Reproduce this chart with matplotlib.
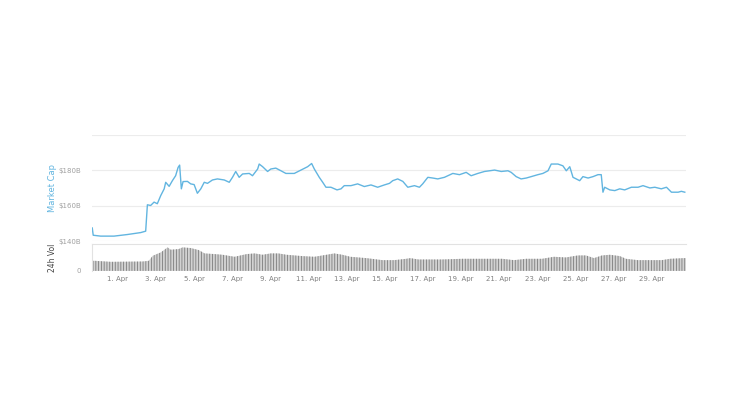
import matplotlib
matplotlib.use("Agg")
import matplotlib.pyplot as plt

# Total market cap, April (x = days after 1 Apr 00:00, y = $B)
cap_days = [-1.33, -1.28, -0.89, -0.19, 0.51, 1.21, 1.47, 1.56, 1.73, 1.91,
            2.08, 2.26, 2.44, 2.52, 2.70, 2.87, 3.04, 3.17, 3.25, 3.34,
            3.43, 3.66, 3.83, 4.01, 4.18, 4.36, 4.54, 4.71, 4.97, 5.23,
            5.59, 5.85, 6.02, 6.19, 6.37, 6.55, 6.90, 7.07, 7.34, 7.42,
            7.60, 7.86, 8.03, 8.29, 8.56, 8.82, 9.26, 9.61, 9.96, 10.17,
            10.31, 10.57, 10.75, 10.92, 11.18, 11.50, 11.71, 11.88, 12.23, 12.58,
            12.93, 13.28, 13.63, 13.98, 14.25, 14.42, 14.68, 14.95, 15.21, 15.56,
            15.82, 15.99, 16.26, 16.52, 16.78, 17.13, 17.57, 17.92, 18.27, 18.53,
            18.88, 19.23, 19.50, 19.76, 20.11, 20.46, 20.63, 20.89, 21.15, 21.42,
            21.68, 22.03, 22.29, 22.56, 22.73, 23.08, 23.34, 23.52, 23.70, 23.87,
            24.04, 24.22, 24.39, 24.66, 24.92, 25.18, 25.35, 25.44, 25.53, 25.80,
            26.06, 26.32, 26.58, 26.93, 27.28, 27.54, 27.90, 28.16, 28.50, 28.77,
            29.03, 29.38, 29.55, 29.73]
cap_values = [147.4, 143.3, 142.8, 142.8, 143.7, 144.8, 145.6, 160.5, 160.1, 162.0,
              161.1, 165.7, 169.5, 173.2, 170.9, 174.1, 176.9, 181.6, 182.9, 169.5,
              173.6, 173.7, 172.3, 171.9, 167.0, 169.5, 173.2, 172.6, 174.5, 175.1,
              174.5, 173.2, 176.0, 179.3, 176.0, 177.9, 178.2, 176.9, 180.7, 183.5,
              182.0, 179.3, 180.7, 181.2, 179.7, 178.2, 178.2, 180.1, 182.0, 183.8,
              180.7, 176.0, 173.2, 170.4, 170.4, 168.9, 169.5, 171.3, 171.3, 172.3,
              170.8, 171.7, 170.4, 171.7, 172.6, 174.1, 175.1, 173.7, 170.4, 171.3,
              170.4, 172.3, 176.0, 175.6, 175.1, 176.0, 178.2, 177.5, 178.8, 176.9,
              178.2, 179.3, 179.7, 180.1, 179.3, 179.7, 178.8, 176.4, 175.1, 175.6,
              176.4, 177.5, 178.2, 179.7, 183.5, 183.5, 182.5, 179.7, 182.0, 176.0,
              175.1, 174.1, 176.4, 175.6, 176.4, 177.5, 177.5, 167.6, 170.4, 168.9,
              168.5, 169.5, 168.9, 170.4, 170.4, 171.3, 170.0, 170.4, 169.5, 170.4,
              167.6, 167.6, 168.1, 167.6]

# 24h volume ($B)
vol_days = [-1.35, -1.19, -0.36, 1.32, 1.63, 1.84, 2.26, 2.62, 2.78, 3.20,
            3.41, 3.83, 4.25, 4.56, 5.09, 5.50, 6.13, 6.76, 7.18, 7.60,
            8.02, 8.43, 8.85, 9.69, 10.32, 10.95, 11.36, 11.78, 12.20, 13.04,
            13.88, 14.50, 15.13, 15.34, 15.76, 17.02, 18.06, 19.11, 20.16, 20.78,
            21.41, 22.25, 22.87, 23.50, 24.13, 24.55, 24.97, 25.39, 25.81, 26.33,
            26.64, 27.27, 28.53, 28.95, 29.68, 29.78]
vol_values = [30, 30, 27, 28, 30, 45, 55, 70, 63, 65,
              70, 68, 62, 52, 50, 48, 42, 50, 52, 48,
              52, 52, 48, 44, 42, 48, 52, 48, 42, 38,
              32, 32, 36, 38, 34, 34, 36, 36, 36, 32,
              36, 36, 42, 40, 46, 46, 38, 46, 48, 44,
              36, 32, 32, 36, 38, 38]

tick_days = list(range(0, 29, 2))
tick_labels = [f"{d + 1}. Apr" for d in tick_days]
cap_ticks = [140, 160, 180]
cap_tick_labels = ["$140B", "$160B", "$180B"]

line_color = "#62b5e0"
grid_color = "#ececec"
text_color = "#a0a0a0"

plt.rcParams["hatch.linewidth"] = 0.6

fig = plt.figure(figsize=(7.47, 4.2), dpi=100)
ax = fig.add_axes([0.123, 0.426, 0.795, 0.253])
axv = fig.add_axes([0.123, 0.355, 0.795, 0.064], sharex=ax)

ax.plot(cap_days, cap_values, color=line_color, linewidth=1.0)
ax.set_ylim(140, 200)
ax.set_xlim(-1.35, 29.78)
ax.set_yticks(cap_ticks + [200])
ax.set_yticklabels(cap_tick_labels + [""])
ax.grid(axis="y", color=grid_color, linewidth=0.8)
ax.tick_params(axis="y", length=0, labelsize=5, colors=text_color, pad=8)
ax.tick_params(axis="x", bottom=False, labelbottom=False)
for s in ax.spines.values():
    s.set_visible(False)
ax.set_ylabel("Market Cap", color=line_color, fontsize=6, labelpad=0.5)

axv.fill_between(vol_days, vol_values, color="#d2d2d2", edgecolor="#7c7c7c",
                 hatch="||||||", linewidth=0)
axv.set_ylim(0, 80)
axv.set_yticks([0])
axv.set_yticklabels(["0"])
axv.tick_params(axis="y", length=0, labelsize=5, colors=text_color, pad=8)
axv.set_xticks(tick_days)
axv.set_xticklabels(tick_labels)
axv.tick_params(axis="x", length=0, labelsize=5, colors="#808080", pad=4)
for name, s in axv.spines.items():
    if name in ("top", "left"):
        s.set_color("#e2e2e2")
        s.set_linewidth(0.8)
    else:
        s.set_visible(False)
axv.set_ylabel("24h Vol", color="#444444", fontsize=5.5, labelpad=14)

fig.savefig("out.png", dpi=100, facecolor="white")
